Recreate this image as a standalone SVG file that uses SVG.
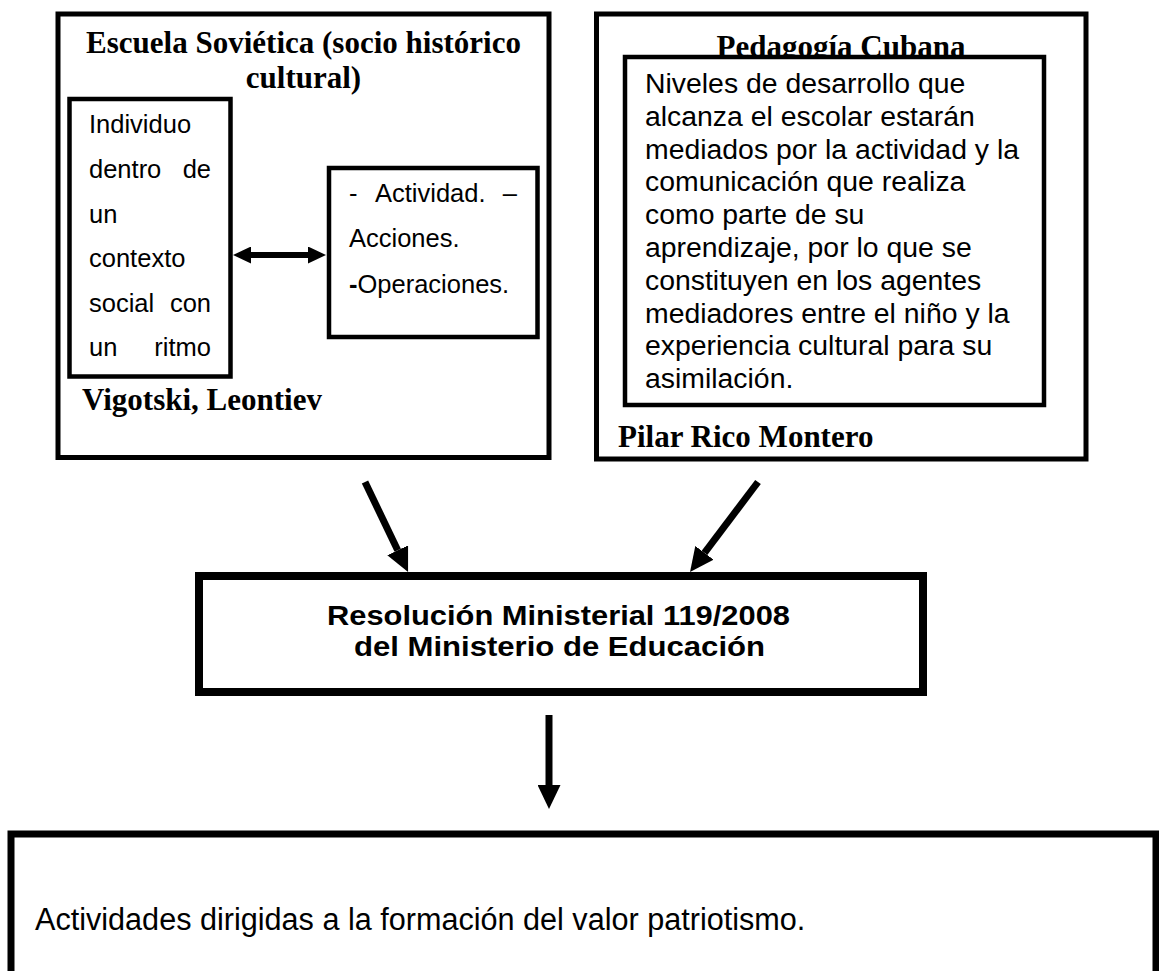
<svg xmlns="http://www.w3.org/2000/svg" width="1159" height="971" viewBox="0 0 1159 971">
<style>
.box{fill:#fff;stroke:#000}
.ser{font-family:"Liberation Serif","Times New Roman",serif;font-weight:bold;font-size:31px;fill:#000}
.sans{font-family:"Liberation Sans",Arial,sans-serif;fill:#000}
.conn{stroke:#000;fill:none}
</style>
<defs>
<marker id="head" markerUnits="userSpaceOnUse" markerWidth="24" markerHeight="23" viewBox="0 0 24 23" refX="0" refY="11.5" orient="auto">
<path d="M0,0 L24,11.5 L0,23 z" fill="#000"/>
</marker>
<marker id="headS" markerUnits="userSpaceOnUse" markerWidth="18" markerHeight="17" viewBox="0 0 18 17" refX="0" refY="8.5" orient="auto-start-reverse">
<path d="M0,0 L18,8.5 L0,17 z" fill="#000"/>
</marker>
</defs>
<rect width="1159" height="971" fill="#fff"/>

<g id="escuela-sovietica">
<rect class="box" x="58" y="14" width="491" height="443.5" stroke-width="5"/>
<text class="ser" x="303.5" y="53" text-anchor="middle">Escuela Soviética (socio histórico</text>
<text class="ser" x="303.5" y="88" text-anchor="middle">cultural)</text>
<text class="ser" x="82" y="410">Vigotski, Leontiev</text>
</g>

<g id="individuo">
<rect class="box" x="69.5" y="99" width="161" height="277.5" stroke-width="4.5"/>
<g class="sans" font-size="25.5">
<text x="89" y="133">Individuo</text>
<text x="89" y="178">dentro</text><text x="211" y="178" text-anchor="end">de</text>
<text x="89" y="223">un</text>
<text x="89" y="267">contexto</text>
<text x="89" y="312">social</text><text x="211" y="312" text-anchor="end">con</text>
<text x="89" y="356">un</text><text x="211" y="356" text-anchor="end">ritmo</text>
</g>
</g>

<g id="actividad">
<rect class="box" x="329" y="168" width="208.5" height="169" stroke-width="4.5"/>
<g class="sans" font-size="25.5">
<text x="349" y="202">-</text><text x="375" y="202">Actividad.</text><text x="517" y="202" text-anchor="end">–</text>
<text x="349" y="247">Acciones.</text>
<text x="349" y="293"><tspan font-weight="bold">-</tspan>Operaciones.</text>
</g>
</g>

<g id="pedagogia-cubana">
<rect class="box" x="596.5" y="14" width="489.5" height="445" stroke-width="5"/>
<text class="ser" x="841" y="57" text-anchor="middle">Pedagogía Cubana</text>
<text class="ser" x="618" y="447">Pilar Rico Montero</text>
</g>

<g id="niveles">
<rect class="box" x="625" y="57" width="419" height="348" stroke-width="4.5"/>
<g class="sans" font-size="28.4">
<text x="645" y="93">Niveles de desarrollo que</text>
<text x="645" y="126">alcanza el escolar estarán</text>
<text x="645" y="159">mediados por la actividad y la</text>
<text x="645" y="191">comunicación que realiza</text>
<text x="645" y="224">como parte de su</text>
<text x="645" y="257">aprendizaje, por lo que se</text>
<text x="645" y="290">constituyen en los agentes</text>
<text x="645" y="323">mediadores entre el niño y la</text>
<text x="645" y="355">experiencia cultural para su</text>
<text x="645" y="388">asimilación.</text>
</g>
</g>

<g id="resolucion">
<rect class="box" x="199" y="576" width="724" height="116" stroke-width="8"/>
<g class="sans" font-size="28" font-weight="bold">
<text x="327" y="625" textLength="463" lengthAdjust="spacingAndGlyphs">Resolución Ministerial 119/2008</text>
<text x="354" y="656" textLength="411" lengthAdjust="spacingAndGlyphs">del Ministerio de Educación</text>
</g>
</g>

<g id="actividades">
<rect class="box" x="11" y="834" width="1145" height="200" stroke-width="7"/>
<text class="sans" font-size="30.6" x="35" y="930">Actividades dirigidas a la formación del valor patriotismo.</text>
</g>

<g id="connectors">
<line class="conn" x1="251" y1="255" x2="308" y2="255" stroke-width="6" marker-start="url(#headS)" marker-end="url(#headS)"/>
<line class="conn" x1="365" y1="482" x2="397.7" y2="550.3" stroke-width="7" marker-end="url(#head)"/>
<line class="conn" x1="758" y1="482" x2="704.5" y2="552.8" stroke-width="7" marker-end="url(#head)"/>
<line class="conn" x1="549" y1="715" x2="549" y2="785" stroke-width="7" marker-end="url(#head)"/>
</g>
</svg>
